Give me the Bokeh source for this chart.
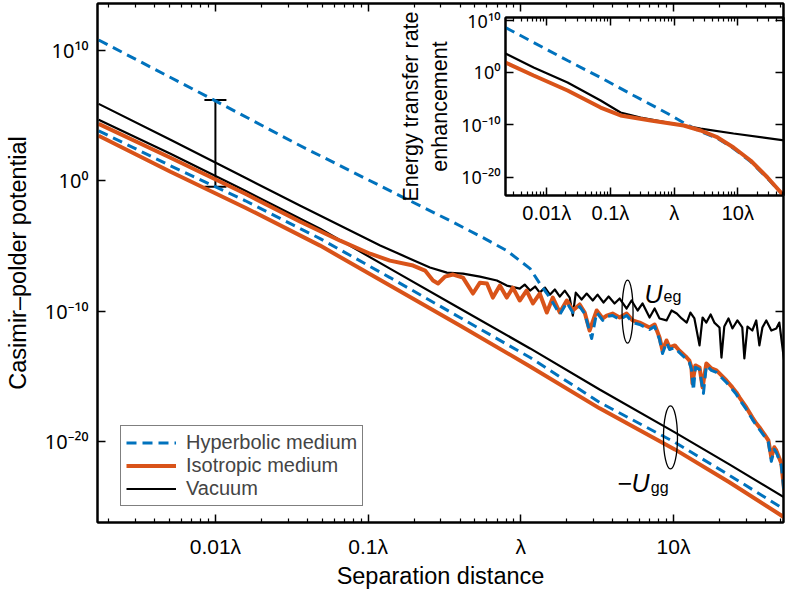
from bokeh.plotting import figure
from bokeh.models import (Range1d, FixedTicker, LogAxis, Legend, LegendItem, Label,
                          Whisker, TeeHead, ColumnDataSource, GridBox)
from bokeh.embed import file_html
from bokeh.resources import INLINE

FONT = "Liberation Sans"
SUP_FONT = "Noto Sans, DejaVu Sans"
BLUE = "#0072BD"
ORANGE = "#D95319"
BLACK = "#000000"

# ---------------- main panel data (separation in units of lambda) ----------------
# -U_gg : ground-state potentials
sep_ugg = [1.72e-3, 5.08e-3, 1.57e-2, 4.85e-2, 0.139, 0.399, 1.15, 3.28, 10.2, 23.2, 53]
ugg_vacuum = [4.7e4, 117, 0.17, 2.1e-4, 1.8e-7, 1.56e-10, 1.35e-13, 9.6e-17, 4.9e-20, 1.7e-22, 5.1e-25]
ugg_hyperbolic = [6.8e3, 14, 2.9e-2, 3.6e-5, 3.7e-8, 3.2e-11, 2.7e-14, 9.8e-18, 8.4e-21, 2.5e-23, 6.2e-26]
ugg_isotropic = [2.8e3, 4.9, 8.5e-3, 1.05e-5, 9.0e-9, 7.8e-12, 5.6e-15, 3.4e-18, 2.4e-21, 7.2e-24, 1.5e-26]

# U_eg : vacuum
sep_ueg_vac = [1.72e-3, 5.08e-3, 1.57e-2, 3.60e-2, 7.62e-2, 0.120, 0.188, 0.254, 0.328, 0.418,
               0.540, 0.697, 0.809, 0.984, 1.06, 1.15, 1.24, 1.33, 1.44, 1.55,
               1.67, 1.80, 1.94, 2.09, 2.19, 2.29, 2.50, 2.70, 2.96, 3.18,
               3.48, 3.76, 4.11, 4.44, 4.93, 5.31, 5.82, 6.27, 6.97, 7.52,
               8.10, 9.00, 9.71, 10.5, 11.3, 12.2, 12.9, 13.7, 14.8, 15.5,
               16.4, 17.5, 18.5, 20.0, 20.6, 21.5, 22.9, 24.3, 26.2, 28.2,
               29.1, 30.5, 32.8, 34.8, 36.5, 38.2, 40.5, 43.7, 47.1, 49.3, 53]
ueg_vacuum = [7.9e5, 1.4e3, 1.7, 1.2e-2, 1.5e-4, 1.05e-5, 1.05e-6, 2.2e-7, 8.9e-8, 7.5e-8,
              4.4e-8, 2.2e-8, 9.0e-9, 5.3e-9, 1.07e-8, 3.7e-9, 7.6e-9, 2.6e-9, 6.3e-9, 1.8e-9,
              4.5e-9, 1.3e-9, 3.7e-9, 1.08e-9, 4.5e-11, 2.6e-9, 7.6e-10, 2.2e-9, 6.4e-10, 1.8e-9,
              4.5e-10, 1.3e-9, 3.8e-10, 9.1e-10, 1.56e-10, 6.4e-10, 1.1e-10, 3.8e-10, 3.2e-11, 1.56e-10,
              2.7e-11, 1.9e-11, 1.1e-10, 6.4e-11, 2.7e-11, 1.3e-11, 7.7e-11, 2.7e-11, 2.3e-13, 3.2e-11,
              1.3e-11, 5.4e-11, 1.3e-11, 5.5e-12, 2.7e-14, 6.5e-12, 2.7e-11, 4.6e-12, 1.9e-11, 5.5e-12,
              2.3e-14, 6.5e-12, 3.2e-12, 1.9e-11, 2.3e-13, 5.5e-12, 1.9e-11, 3.2e-12, 4.6e-12, 1.3e-11, 1.6e-14]

# U_eg : isotropic medium
sep_ueg_iso = [1.72e-3, 5.08e-3, 1.57e-2, 3.60e-2, 6.56e-2, 0.103, 0.139, 0.197, 0.236, 0.266,
               0.287, 0.319, 0.360, 0.418, 0.451, 0.486, 0.540, 0.600, 0.656, 0.729,
               0.809, 0.887, 0.984, 1.09, 1.20, 1.33, 1.48, 1.62, 1.80, 2.00,
               2.19, 2.43, 2.62, 2.82, 3.14, 3.44, 3.65, 3.99, 4.44, 4.93,
               5.40, 6.00, 6.97, 7.52, 8.10, 8.47, 9.00, 9.42, 10.2, 10.9,
               12.2, 12.7, 13.1, 13.3, 13.9, 14.8, 15.5, 16.4, 17.7, 19.1,
               20.6, 22.2, 24.3, 25.8, 27.0, 30.0, 32.8, 34.8, 36.5, 39.4,
               41.8, 43.7, 45.7, 47.1, 49.3, 50.8, 53]
ueg_isotropic = [2.3e4, 58, 0.10, 7.2e-4, 2.5e-5, 2.5e-6, 7.4e-7, 3.1e-7, 1.27e-7, 2.2e-8,
                 1.3e-8, 4.4e-8, 6.3e-8, 3.7e-8, 9.0e-9, 2.2e-9, 1.5e-8, 1.3e-8, 1.08e-9, 9.0e-9,
                 1.08e-9, 6.3e-9, 6.4e-10, 3.7e-9, 3.8e-10, 2.2e-9, 7.7e-11, 1.08e-9, 7.7e-11, 6.4e-10,
                 1.1e-10, 3.2e-10, 7.7e-11, 3.2e-12, 1.1e-10, 2.7e-11, 4.5e-11, 6.4e-11, 3.2e-11, 6.4e-11,
                 1.9e-11, 1.3e-11, 5.5e-12, 9.3e-12, 9.3e-13, 9.4e-14, 5.5e-13, 1.6e-13, 2.3e-13, 9.4e-14,
                 2.7e-14, 1.6e-14, 4.7e-15, 2.8e-16, 6.7e-15, 4.7e-15, 1.38e-16, 9.5e-15, 3.9e-15, 2.8e-15,
                 1.15e-15, 4.7e-16, 1.38e-16, 5.7e-17, 2.4e-17, 4.0e-18, 6.9e-19, 2.4e-19, 1.2e-19, 3.4e-20,
                 1.2e-20, 5.9e-22, 3.5e-21, 2.0e-21, 5.0e-22, 2.1e-22, 1.8e-24]

# U_eg : hyperbolic medium
sep_ueg_hyp = [1.72e-3, 0.01, 3.60e-2, 0.188, 0.344, 0.565, 0.809, 1.15, 1.33, 1.55,
               1.80, 2.00, 2.19, 2.43, 2.62, 2.91, 3.14, 3.44, 3.65, 3.99,
               4.44, 4.93, 5.40, 6.00, 6.97, 7.52, 8.10, 8.47, 9.00, 9.42,
               10.2, 10.9, 12.2, 12.7, 13.1, 13.5, 13.9, 14.8, 15.7, 16.4,
               17.7, 19.1, 20.6, 22.2, 24.3, 25.8, 27.0, 30.0, 32.8, 34.8,
               36.5, 39.4, 41.8, 43.7, 45.7, 47.1, 49.3, 50.8, 53]
ueg_hyperbolic = [6.3e10, 1.35e6, 4.8e2, 2.9e-2, 8.6e-4, 4.3e-5, 4.3e-6, 1.8e-7, 1.3e-8, 1.08e-9,
                  5.4e-11, 4.5e-10, 7.7e-11, 2.2e-10, 6.4e-11, 7.8e-13, 7.7e-11, 1.9e-11, 3.8e-11, 4.5e-11,
                  2.2e-11, 4.5e-11, 1.3e-11, 9.3e-12, 3.8e-12, 6.5e-12, 6.6e-13, 5.5e-14, 3.9e-13, 1.12e-13,
                  1.6e-13, 6.6e-14, 1.9e-14, 1.12e-14, 3.3e-15, 8.1e-17, 4.7e-15, 3.3e-15, 4.8e-17, 6.7e-15,
                  2.8e-15, 1.95e-15, 8.0e-16, 3.3e-16, 9.6e-17, 4.0e-17, 1.66e-17, 2.8e-18, 4.9e-19, 1.7e-19,
                  8.3e-20, 2.4e-20, 8.4e-21, 2.9e-22, 2.4e-21, 1.44e-21, 3.5e-22, 1.45e-22, 1.05e-24]

# enhancement bar at 0.01 lambda
errbar_sep = [0.01]
errbar_low = [0.35]
errbar_high = [1.6e6]

# annotation anchors
ellipse_sep = [5.0, 9.55]
ellipse_pot = [9e-11, 2.0e-20]

# ---------------- inset data ----------------
ins_sep_vac = [2.25e-3, 6.21e-3, 2.12e-2, 7.0e-2, 0.144, 0.297, 0.787, 2.60, 8.55, 53]
ins_vacuum = [4.2e3, 8.9, 1.26e-2, 4.7e-6, 2.4e-8, 2.7e-9, 3.0e-10, 2.1e-11, 2.4e-12, 1.12e-13]
ins_sep_iso = [2.25e-3, 6.21e-3, 2.12e-2, 7.0e-2, 0.144, 0.427, 1.41, 2.60, 4.80, 8.55, 15.8, 29.2, 53]
ins_isotropic = [79, 0.27, 3.7e-4, 2.1e-7, 6.5e-9, 7.2e-10, 8.0e-11, 8.9e-12, 4.2e-13, 5.2e-15, 1.74e-17, 1.0e-20, 3.0e-24]
ins_sep_hyp = [2.25e-3, 6.21e-3, 2.12e-2, 7.0e-2, 0.231, 0.787, 1.68, 2.60, 4.80, 8.55, 15.8, 29.2, 53]
ins_hyperbolic = [3.7e8, 5.2e5, 1.9e2, 0.11, 4.2e-5, 1.55e-8, 8.0e-11, 5.8e-12, 2.7e-13, 3.3e-15, 1.1e-17, 6.5e-21, 3.0e-24]

# ---------------- ticks ----------------
X_MAJOR = [0.01, 0.1, 1.0, 10.0]
X_LABELS = ["0.01λ", "0.1λ", "λ", "10λ"]
X_MINOR = [0.002, 0.003, 0.004, 0.005, 0.006, 0.007, 0.008, 0.009,
           0.02, 0.03, 0.04, 0.05, 0.06, 0.07, 0.08, 0.09,
           0.2, 0.3, 0.4, 0.5, 0.6, 0.7, 0.8, 0.9,
           2.0, 3.0, 4.0, 5.0, 6.0, 7.0, 8.0, 9.0,
           20.0, 30.0, 40.0, 50.0]
Y_MAJOR = [1e-20, 1e-10, 1.0, 1e10]
Y_LABELS = ["10⁻²⁰", "10⁻¹⁰", "10⁰", "10¹⁰"]

# layout (pixels)
W, H = 788, 591
INS_W, INS_H = 394, 222


def style_axis(ax, tick_size, label_size="22px"):
    ax.axis_line_color = "black"
    ax.axis_line_width = 2
    ax.major_tick_line_color = "black"
    ax.minor_tick_line_color = "black"
    ax.major_tick_line_width = 1.5
    ax.minor_tick_line_width = 1.2
    ax.major_tick_in = 8
    ax.major_tick_out = 0
    ax.minor_tick_in = 4
    ax.minor_tick_out = 0
    ax.major_label_text_font = FONT
    ax.major_label_text_font_size = tick_size
    ax.major_label_text_color = "black"
    ax.axis_label_text_font = FONT
    ax.axis_label_text_font_size = label_size
    ax.axis_label_text_font_style = "normal"
    ax.axis_label_text_color = "black"


def mirror_axes(fig):
    top = LogAxis(ticker=FixedTicker(ticks=X_MAJOR, minor_ticks=X_MINOR),
                  major_label_overrides={t: "" for t in X_MAJOR})
    style_axis(top, "0px")
    top.major_label_standoff = 0
    fig.add_layout(top, "above")
    right = LogAxis(ticker=FixedTicker(ticks=Y_MAJOR, minor_ticks=[]),
                    major_label_overrides={t: "" for t in Y_MAJOR})
    style_axis(right, "0px")
    right.major_label_standoff = 0
    fig.add_layout(right, "right")


# ---------------- main figure ----------------
X0, X1 = 1.69e-3, 52.5
p = figure(width=W, height=H, x_axis_type="log", y_axis_type="log",
           x_range=Range1d(X0, X1), y_range=Range1d(5.9e-27, 4.0e13),
           output_backend="svg", toolbar_location=None,
           min_border_left=97, min_border_right=0, min_border_top=3, min_border_bottom=68,
           background_fill_color="white", border_fill_color="white",
           outline_line_color="black", outline_line_width=2)
p.grid.visible = False

p.xaxis.ticker = FixedTicker(ticks=X_MAJOR, minor_ticks=X_MINOR)
p.xaxis.major_label_overrides = dict(zip(X_MAJOR, X_LABELS))
p.xaxis.axis_label = "Separation distance"
style_axis(p.xaxis[0], "21px", "23.5px")
p.xaxis.major_label_standoff = 12
p.xaxis.axis_label_standoff = 2

p.yaxis.ticker = FixedTicker(ticks=Y_MAJOR, minor_ticks=[])
p.yaxis.major_label_overrides = dict(zip(Y_MAJOR, Y_LABELS))
p.yaxis.axis_label = "Casimir–polder potential"
style_axis(p.yaxis[0], "20px", "23.5px")
p.yaxis.major_label_text_font = SUP_FONT
p.yaxis.major_label_standoff = 9
p.yaxis.axis_label_standoff = 11
mirror_axes(p)

p.line(sep_ugg, ugg_vacuum, line_color=BLACK, line_width=2.2)
r_vac = p.line(sep_ueg_vac, ueg_vacuum, line_color=BLACK, line_width=2.2, line_join="round")
p.line(sep_ugg, ugg_isotropic, line_color=ORANGE, line_width=4)
r_iso = p.line(sep_ueg_iso, ueg_isotropic, line_color=ORANGE, line_width=4, line_join="round")
p.line(sep_ugg, ugg_hyperbolic, line_color=BLUE, line_width=3, line_dash="10 6")
r_hyp = p.line(sep_ueg_hyp, ueg_hyperbolic, line_color=BLUE, line_width=3, line_dash="10 6",
               line_join="round")

err = ColumnDataSource(dict(base=errbar_sep, lower=errbar_low, upper=errbar_high))
p.add_layout(Whisker(source=err, base="base", lower="lower", upper="upper", dimension="height",
                     line_color="black", line_width=2,
                     upper_head=TeeHead(size=22, line_width=2, line_color="black"),
                     lower_head=TeeHead(size=22, line_width=2, line_color="black")))

p.ellipse(x=ellipse_sep, y=ellipse_pot, width=[11, 14], height=[63, 63],
          width_units="screen", height_units="screen",
          fill_alpha=0, line_color="black", line_width=1.3)


def add_label(fig, x, y, text, size, style="normal", align="left"):
    fig.add_layout(Label(x=x, y=y, text=text, text_font=FONT, text_font_size=size,
                         text_font_style=style, text_align=align, text_baseline="alphabetic",
                         text_color="black"))


add_label(p, 8.47, 2.2e-9, "U", "25px", "italic", "right")
add_label(p, 8.6, 1.3e-9, "eg", "16px")
add_label(p, 6.97, 6.0e-24, "−U", "25px", "italic", "right")
add_label(p, 7.1, 3.0e-24, "gg", "16px")

legend = Legend(items=[LegendItem(label="Hyperbolic medium", renderers=[r_hyp]),
                       LegendItem(label="Isotropic medium", renderers=[r_iso]),
                       LegendItem(label="Vacuum", renderers=[r_vac])],
                location=(23, 16))
legend.label_text_font = FONT
legend.label_text_font_size = "20px"
legend.glyph_width = 50
legend.glyph_height = 21
legend.label_height = 21
legend.label_standoff = 10
legend.spacing = 0
legend.padding = 5
legend.margin = 0
legend.border_line_color = "black"
legend.border_line_width = 1.5
legend.background_fill_color = "white"
legend.background_fill_alpha = 1
p.add_layout(legend)

# ---------------- inset figure ----------------
ins = figure(width=INS_W, height=INS_H, x_axis_type="log", y_axis_type="log",
             x_range=Range1d(2.25e-3, 52), y_range=Range1d(3.7e-24, 3e10),
             output_backend="svg", toolbar_location=None,
             min_border_left=111, min_border_right=5, min_border_top=9, min_border_bottom=35,
             background_fill_color="white", border_fill_alpha=0,
             outline_line_color="black", outline_line_width=2)
ins.grid.visible = False
ins.xaxis.ticker = FixedTicker(ticks=X_MAJOR, minor_ticks=X_MINOR)
ins.xaxis.major_label_overrides = dict(zip(X_MAJOR, X_LABELS))
style_axis(ins.xaxis[0], "20px")
ins.xaxis.major_label_standoff = 6
ins.yaxis.ticker = FixedTicker(ticks=Y_MAJOR, minor_ticks=[])
ins.yaxis.major_label_overrides = dict(zip(Y_MAJOR, Y_LABELS))
ins.yaxis.axis_label = "Energy transfer rate\nenhancement"
style_axis(ins.yaxis[0], "18px", "21.5px")
ins.yaxis.major_label_text_font = SUP_FONT
ins.yaxis.major_label_standoff = 5
ins.yaxis.axis_label_standoff = 6
mirror_axes(ins)

ins.line(ins_sep_vac, ins_vacuum, line_color=BLACK, line_width=2.2)
ins.line(ins_sep_hyp, ins_hyperbolic, line_color=BLUE, line_width=3, line_dash="10 6")
ins.line(ins_sep_iso, ins_isotropic, line_color=ORANGE, line_width=4)

layout = GridBox(children=[(p, 0, 0, 3, 2), (ins, 1, 1)],
                 rows={0: "8px", 1: f"{INS_H}px", 2: f"{H - 8 - INS_H}px"},
                 cols={0: f"{W - INS_W}px", 1: f"{INS_W}px"})

open("out.html", "w").write(file_html(layout, INLINE))
